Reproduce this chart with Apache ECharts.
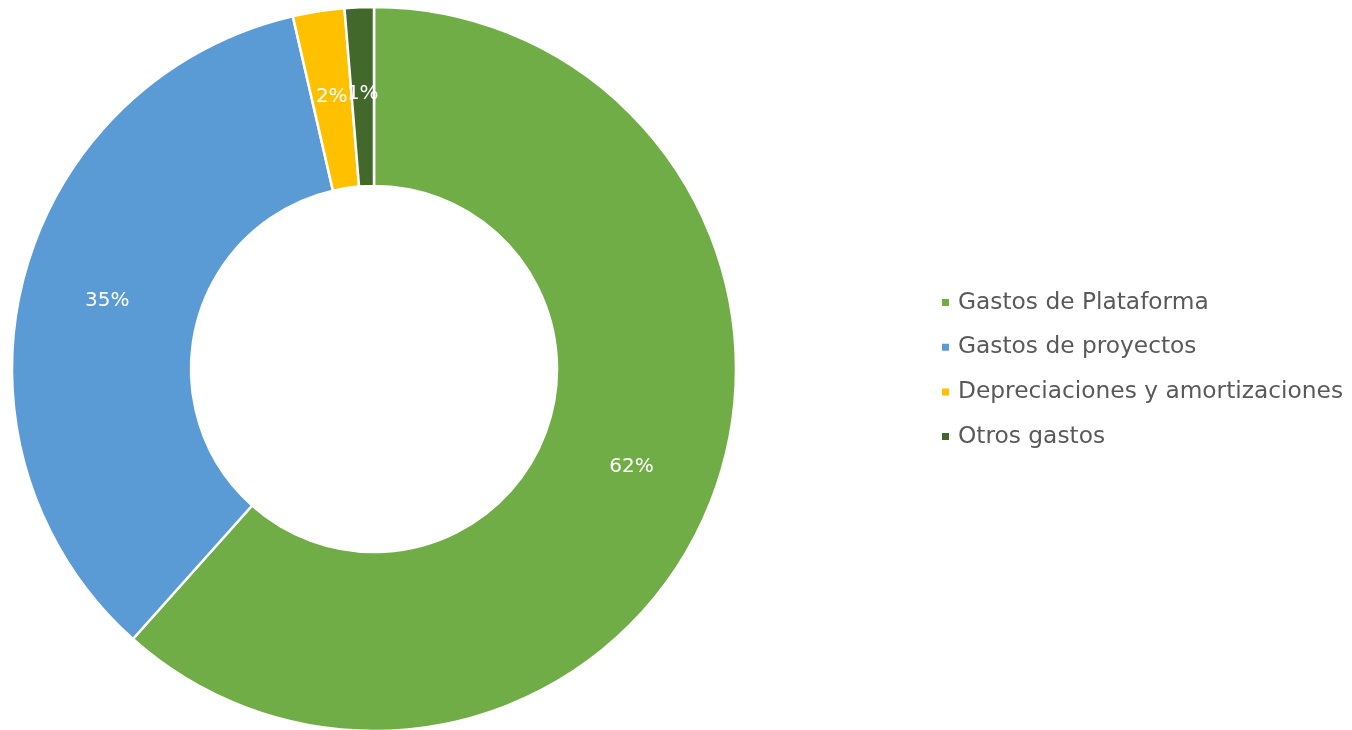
<!DOCTYPE html>
<html><head><meta charset="utf-8">
<script src="https://cdn.jsdelivr.net/npm/echarts@6/dist/echarts.min.js"></script>
<style>html,body{margin:0;padding:0;background:#fff}#c{width:1352px;height:730px}</style>
</head><body><div id="c"></div>
<script>
var categories = ['Gastos de Plataforma','Gastos de proyectos','Depreciaciones y amortizaciones','Otros gastos'];
var values = [61.6, 34.8, 2.3, 1.3];
var colors = ['#70AD47','#5B9BD5','#FFC000','#43682B'];
var chart = echarts.init(document.getElementById('c'));
chart.setOption({
  animation:false,
  color: colors,
  legend:{
    orient:'vertical', left:940, top:290, padding:0,
    icon:'rect', itemWidth:9, itemHeight:9, itemGap:19.7,
    textStyle:{color:'#595959', fontSize:23.3, fontFamily:'DejaVu Sans', lineHeight:25, padding:[0,0,0,3]},
    data: categories
  },
  series:[{
    type:'pie', center:[374,369], radius:[183,362], startAngle:90, clockwise:true,
    avoidLabelOverlap:false,
    labelLayout:{hideOverlap:false},
    itemStyle:{borderColor:'#fff', borderWidth:2.5},
    label:{position:'inside', color:'#fff', fontSize:20, fontFamily:'DejaVu Sans',
      formatter:function(p){return Math.round(p.percent)+'%';}},
    labelLine:{show:false},
    data: categories.map(function(n,i){return {name:n, value:values[i]};})
  }]
});
</script></body></html>
